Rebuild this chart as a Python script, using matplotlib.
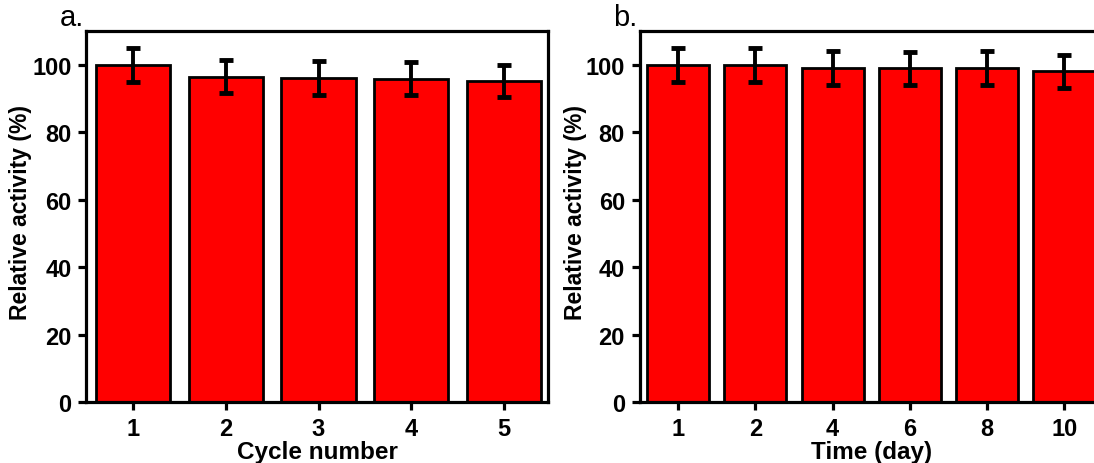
import numpy as np
import matplotlib
matplotlib.use('Agg')
import matplotlib.pyplot as plt

plt.rcParams['font.family'] = ['Liberation Sans', 'DejaVu Sans']

# panel a: reuse cycles
cycles = ['1', '2', '3', '4', '5']
cycle_activity = [100.0, 96.5, 96.0, 95.8, 95.2]
cycle_err = [5.0, 4.9, 5.0, 4.9, 4.8]

# panel b: storage time
days = ['1', '2', '4', '6', '8', '10']
day_activity = [100.0, 100.0, 99.0, 99.0, 99.0, 98.0]
day_err = [5.0, 5.0, 5.0, 4.9, 5.0, 5.0]

W, H = 1094, 464
fig = plt.figure(figsize=(W / 100, H / 100), dpi=100)


def panel(box, xlim, labels, values, errs, xlabel, tag, ylab_x):
    x0, x1, y0, y1 = box
    ax = fig.add_axes([x0 / W, 1 - y1 / H, (x1 - x0) / W, (y1 - y0) / H])
    x = np.arange(len(labels))
    ax.bar(x, values, width=0.8, color='#ff0000', edgecolor='black',
           linewidth=2.0, zorder=2)
    ax.errorbar(x, values, yerr=errs, fmt='none', ecolor='black',
                elinewidth=2.8, capsize=5, capthick=3.5, zorder=3)
    ax.set_xlim(*xlim)
    ax.set_ylim(0, 110)
    ax.set_xticks(x)
    ax.set_xticklabels(labels)
    ax.set_yticks([0, 20, 40, 60, 80, 100])
    for s in ax.spines.values():
        s.set_linewidth(2.3)
    ax.tick_params(axis='both', direction='out', length=6, width=2.3,
                   labelsize=17)
    ax.tick_params(axis='x', pad=5)
    ax.tick_params(axis='y', pad=4.5)
    for lab in ax.get_xticklabels() + ax.get_yticklabels():
        lab.set_fontweight('bold')
    ax.set_xlabel(xlabel, fontsize=17.5, fontweight='bold', labelpad=-0.5)
    ax.set_ylabel('Relative activity (%)', fontsize=16.5, fontweight='bold')
    ax.yaxis.set_label_coords(ylab_x, 0.513)
    ax.text(-0.005, 1.0, tag, transform=ax.transAxes, fontsize=21,
            ha='right', va='bottom')
    return ax


panel((86, 548, 32, 403), (-0.507, 4.474), cycles, cycle_activity, cycle_err,
      'Cycle number', 'a.', -0.117)
panel((639.5, 1103, 32, 403), (-0.5, 5.5), days, day_activity, day_err,
      'Time (day)', 'b.', -0.113)

fig.savefig('out.png', dpi=100)
